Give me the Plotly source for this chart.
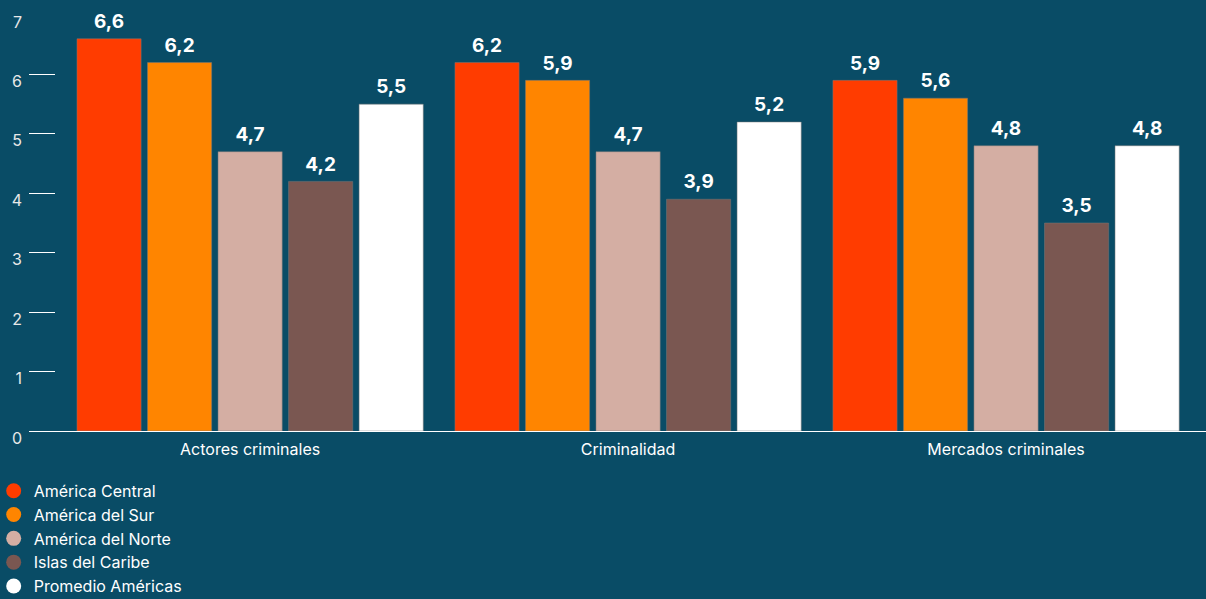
import plotly.graph_objects as go

# Indicator groups on the x axis
categories = ["Actores criminales", "Criminalidad", "Mercados criminales"]

# Regional scores per indicator
regions = ["América Central", "América del Sur", "América del Norte",
           "Islas del Caribe", "Promedio Américas"]
america_central = [6.6, 6.2, 5.9]
america_del_sur = [6.2, 5.9, 5.6]
america_del_norte = [4.7, 4.7, 4.8]
islas_del_caribe = [4.2, 3.9, 3.5]
promedio_americas = [5.5, 5.2, 4.8]

series = [america_central, america_del_sur, america_del_norte,
          islas_del_caribe, promedio_americas]
colors = ["#ff3c00", "#ff8500", "#d4aea3", "#7a5751", "#ffffff"]

y_ticks = [0, 1, 2, 3, 4, 5, 6, 7]

BG = "#094c66"
FONT = "Inter, Liberation Sans, Arial, sans-serif"
GAP = 0.067

fig = go.Figure()

for i, (name, values, color) in enumerate(zip(regions, series, colors)):
    fig.add_trace(go.Bar(
        x=categories,
        y=values,
        name=name,
        offsetgroup=str(i),
        marker=dict(color=color, line=dict(color="rgba(120,120,120,0.5)", width=1)),
        showlegend=False,
        hoverinfo="x+y+name",
    ))

# Value labels above each bar, grouped like the bars; an invisible marker
# keeps a little space between the label and the bar top
for i, (name, values) in enumerate(zip(regions, series)):
    fig.add_trace(go.Scatter(
        x=categories,
        y=values,
        offsetgroup=str(i),
        mode="markers+text",
        marker=dict(size=8, color="rgba(0,0,0,0)"),
        text=[f"{v:.1f}".replace(".", ",") for v in values],
        textposition="top center",
        textfont=dict(family=FONT, size=19, color="#ffffff", weight="bold"),
        cliponaxis=False,
        showlegend=False,
        hoverinfo="skip",
    ))

# Round legend markers
for name, color in zip(regions, colors):
    fig.add_trace(go.Scatter(
        x=[None], y=[None],
        mode="markers",
        name=name,
        marker=dict(symbol="circle", size=15, color=color),
        showlegend=True,
    ))

fig.update_layout(
    width=1206,
    height=599,
    paper_bgcolor=BG,
    plot_bgcolor=BG,
    margin=dict(l=29, r=0, t=15, b=168, autoexpand=False),
    barmode="group",
    scattermode="group",
    bargap=GAP,
    scattergap=GAP,
    bargroupgap=0.09,
    separators=",.",
    font=dict(family=FONT, size=16, color="#ffffff"),
    legend=dict(
        x=-0.03, xanchor="left",
        y=-0.103, yanchor="top",
        orientation="v",
        font=dict(family=FONT, size=16, color="#ffffff"),
        bgcolor="rgba(0,0,0,0)",
        itemsizing="trace",
        traceorder="normal",
    ),
    xaxis=dict(
        range=[-0.585, 2.529],
        showline=True,
        linecolor="#ffffff",
        linewidth=1,
        ticks="",
        showgrid=False,
        zeroline=False,
        ticklabelstandoff=4,
        tickfont=dict(family=FONT, size=16, color="#ffffff"),
        fixedrange=True,
    ),
    yaxis=dict(
        range=[0, 7],
        tickvals=y_ticks,
        ticks="inside",
        ticklen=26,
        tickwidth=1,
        tickcolor="#ffffff",
        ticklabelshift=7,
        ticklabelstandoff=6,
        showline=False,
        showgrid=False,
        zeroline=False,
        tickfont=dict(family=FONT, size=16, color="#e8e8e8"),
        fixedrange=True,
    ),
)

fig.write_html("out.html")
